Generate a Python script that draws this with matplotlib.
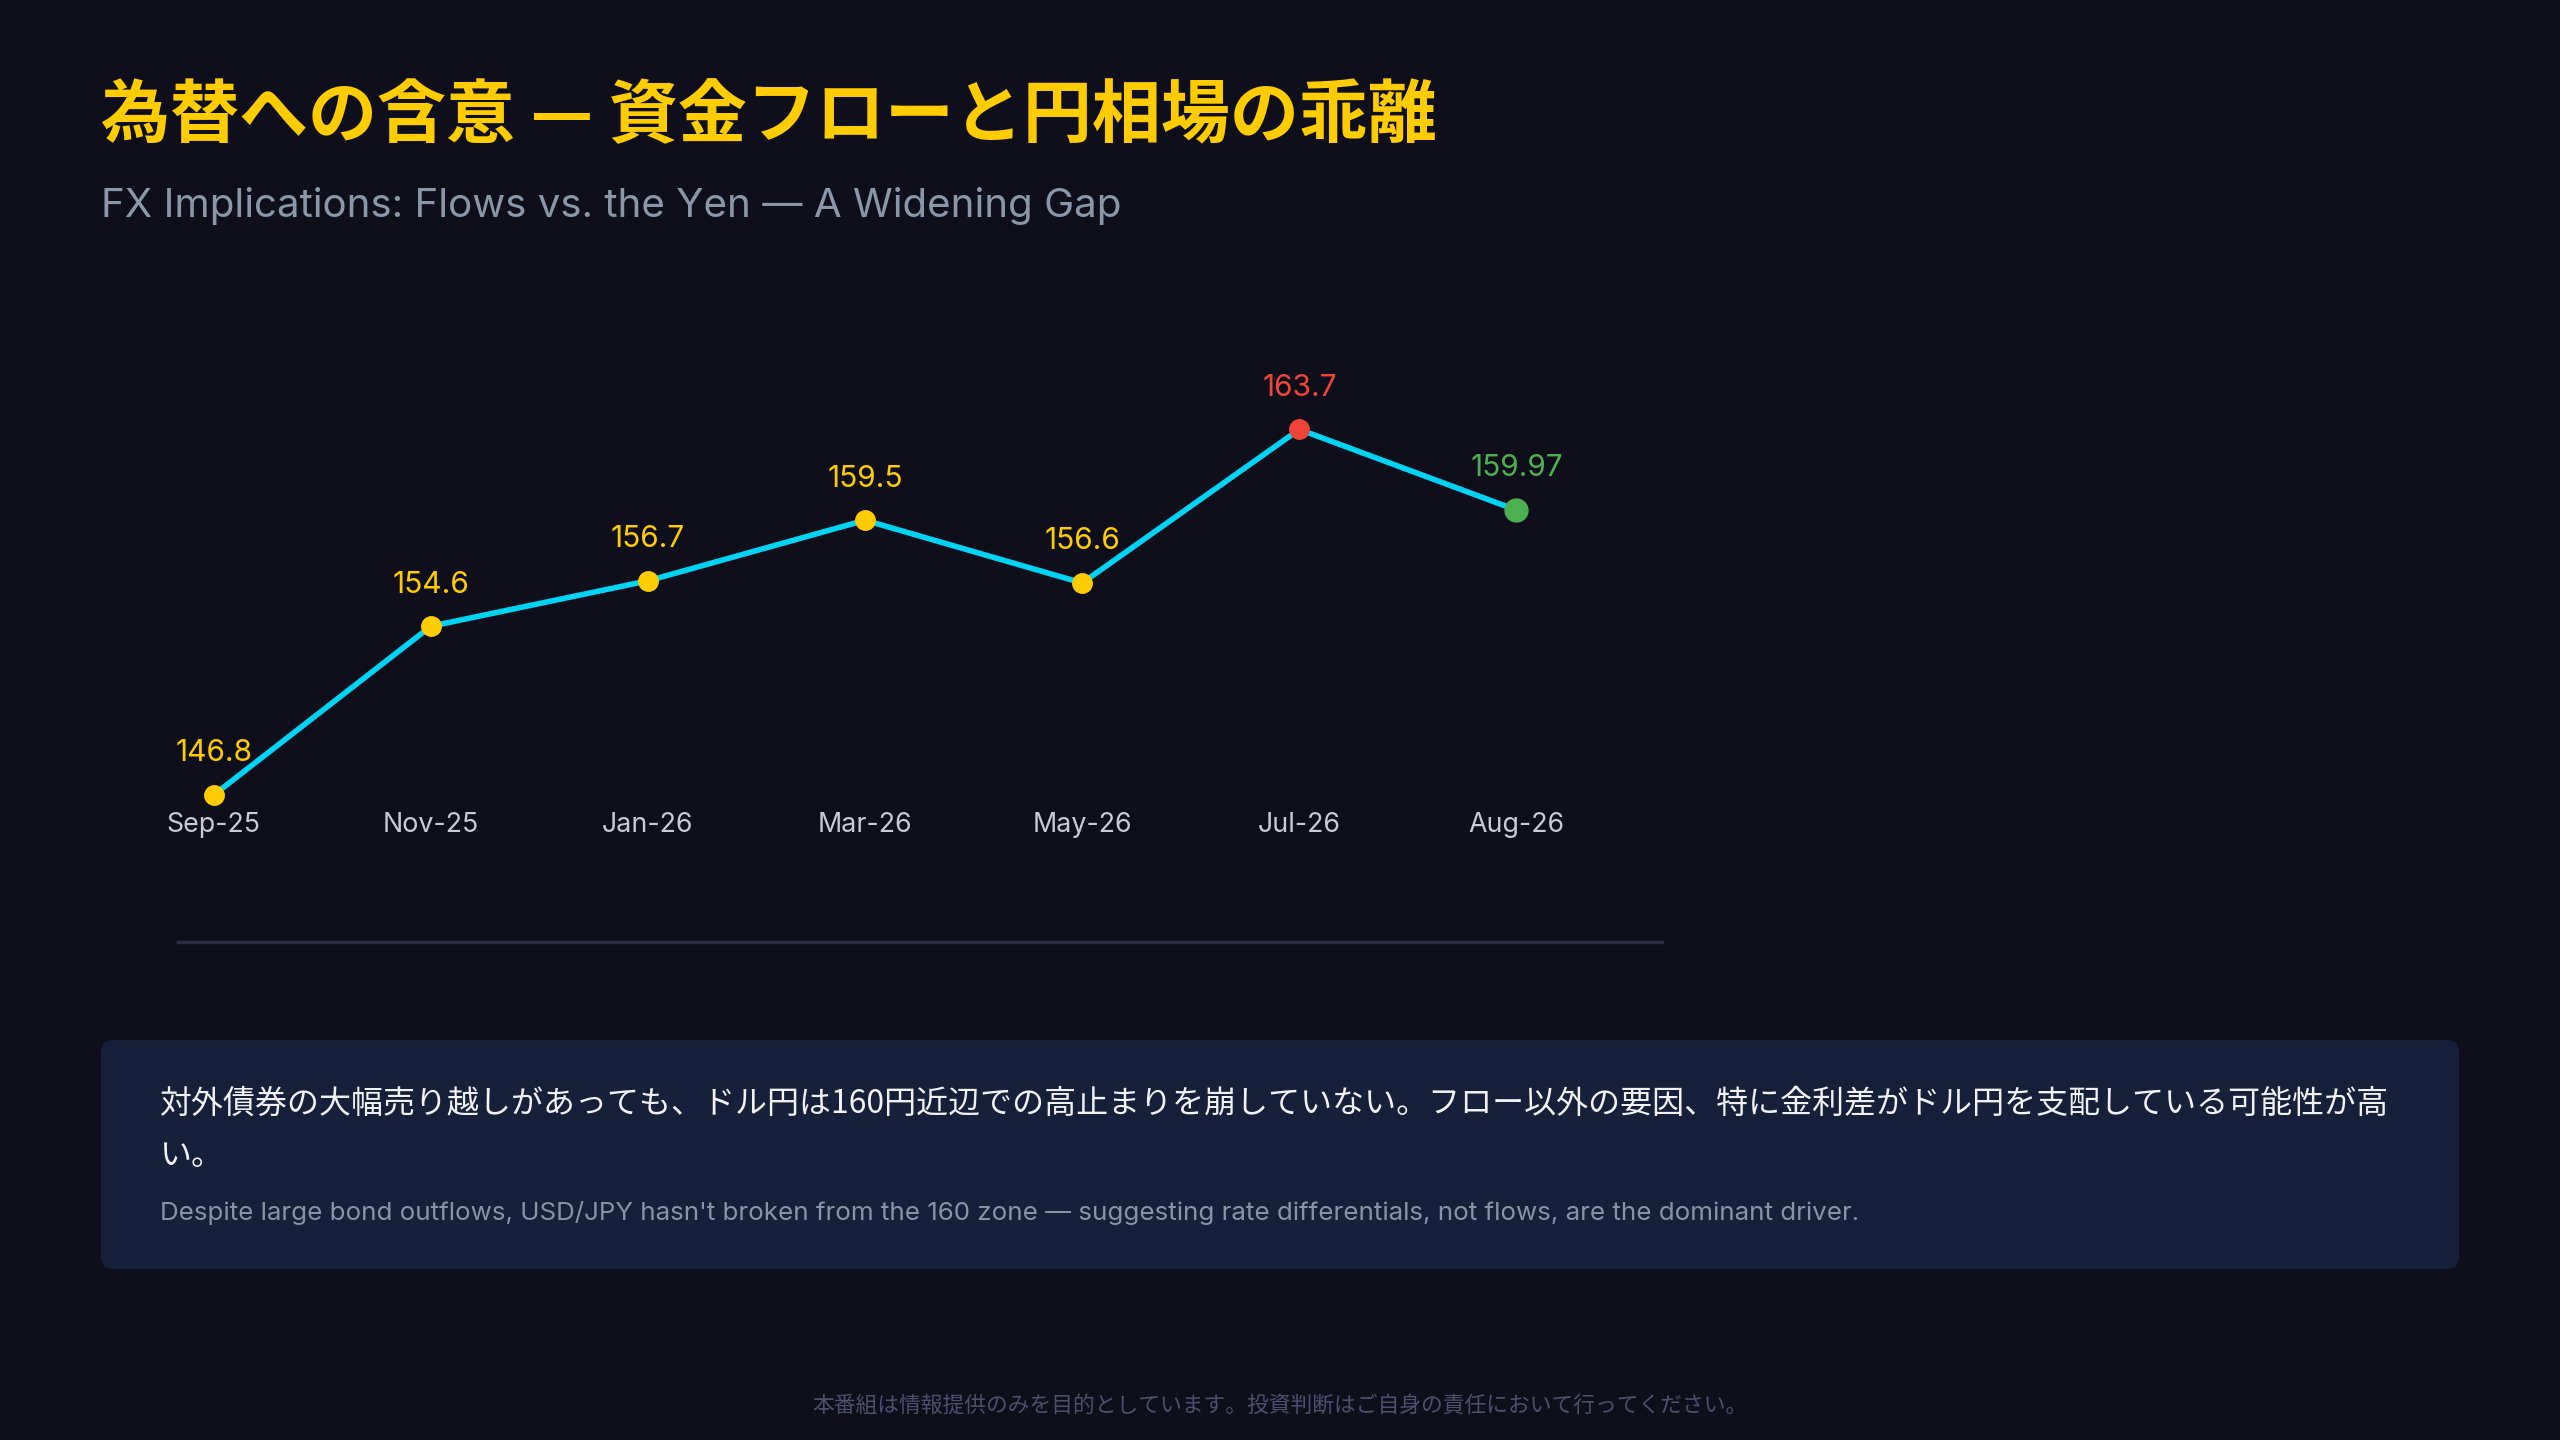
import matplotlib
matplotlib.use('Agg')
import matplotlib.pyplot as plt
from matplotlib.patches import FancyBboxPatch
from matplotlib.transforms import blended_transform_factory

# データ（ドル円の推移）
months = ['Sep-25', 'Nov-25', 'Jan-26', 'Mar-26', 'May-26', 'Jul-26', 'Aug-26']
usdjpy = [146.8, 154.6, 156.7, 159.5, 156.6, 163.7, 159.97]

title = '為替への含意 — 資金フローと円相場の乖離'
subtitle = 'FX Implications: Flows vs. the Yen — A Widening Gap'
note_jp_1 = '対外債券の大幅売り越しがあっても、ドル円は160円近辺での高止まりを崩していない。フロー以外の要因、特に金利差がドル円を支配している可能性が高'
note_jp_2 = 'い。'
note_en = "Despite large bond outflows, USD/JPY hasn't broken from the 160 zone — suggesting rate differentials, not flows, are the dominant driver."
footer = '本番組は情報提供のみを目的としています。投資判断はご自身の責任において行ってください。'

BG = '#0f0f1c'
YELLOW = '#ffcc00'
RED = '#f04438'
GREEN = '#4caf50'
CYAN = '#00d4f5'
LATIN = ['Inter', 'Noto Sans CJK JP', 'DejaVu Sans']

plt.rcParams['font.family'] = ['Noto Sans CJK JP', 'DejaVu Sans']

fig = plt.figure(figsize=(25.6, 14.4), dpi=100, facecolor=BG)

# タイトル
fig.text(0.0395, 0.919, title, color=YELLOW, fontsize=49.7, fontweight='bold', va='center', ha='left')
fig.text(0.0395, 0.857, subtitle, color='#8a97a8', fontsize=29, va='center', ha='left', family=LATIN)

# 折れ線グラフ
ax = fig.add_axes([0.0695, 0.3458, 0.5797, 0.4242])
ax.set_facecolor(BG)
x = list(range(len(months)))
ax.plot(x, usdjpy, color=CYAN, linewidth=4, zorder=2)

top = usdjpy.index(max(usdjpy))
for i, v in enumerate(usdjpy):
    if i == len(usdjpy) - 1:
        c, ms = GREEN, 16.5
    elif i == top:
        c, ms = RED, 14
    else:
        c, ms = YELLOW, 14
    ax.plot(i, v, 'o', color=c, markersize=ms, zorder=3)
    ax.annotate(f'{v:g}', (i, v), xytext=(0, 30), textcoords='offset points',
                ha='center', va='center', color=c, fontsize=21.5, family=LATIN)

trans = blended_transform_factory(ax.transData, ax.transAxes)
for i, m in enumerate(months):
    ax.text(i, 0.1915, m, transform=trans, ha='center', va='center', color='#c8cbd6',
            fontsize=19.3, family=LATIN)

ax.set_xlim(-0.165, 6.67)
ax.set_ylim(140.0, 168.24)
ax.set_xticks([])
ax.set_yticks([])
for s in ['top', 'left', 'right']:
    ax.spines[s].set_visible(False)
ax.spines['bottom'].set_color('#2b2b48')
ax.spines['bottom'].set_linewidth(2.5)

# コメント枠
box = FancyBboxPatch((1.01, 1.71), 23.58, 2.29, boxstyle='round,pad=0,rounding_size=0.13',
                     transform=fig.dpi_scale_trans, facecolor='#16203a', edgecolor='none', zorder=0)
fig.patches.append(box)
fig.text(0.0625, 0.2333, note_jp_1, color='#f2f2f5', fontsize=23, va='center', ha='left')
fig.text(0.0625, 0.197, note_jp_2, color='#f2f2f5', fontsize=23, va='center', ha='left')
fig.text(0.0625, 0.1576, note_en, color='#8a93a6', fontsize=18.7, va='center', ha='left', family=LATIN)

# 注意書き
fig.text(0.5, 0.0236, footer, color='#4e4e6e', fontsize=15.7, va='center', ha='center')

fig.savefig('out.png', dpi=100, facecolor=BG)
